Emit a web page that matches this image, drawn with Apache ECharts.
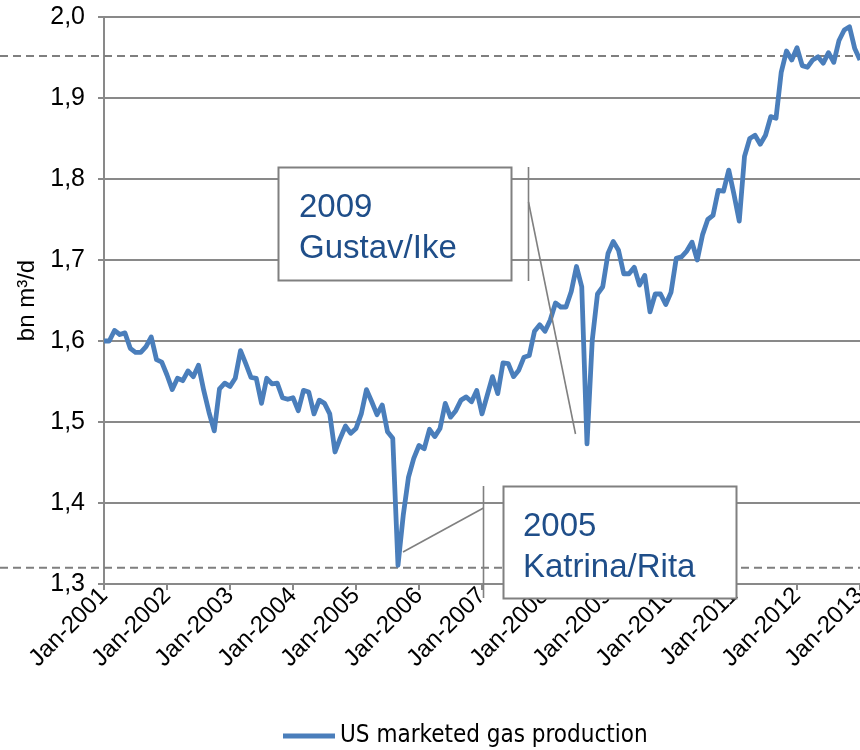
<!DOCTYPE html>
<html>
<head>
<meta charset="utf-8">
<script src="https://cdn.jsdelivr.net/npm/echarts@6/dist/echarts.min.js"></script>
<style>
html,body{margin:0;padding:0;background:#fff;}
#main{width:860px;height:750px;}
</style>
</head>
<body>
<div id="main"></div>
<script>
// ---- data ----
const monthNames = ['Jan','Feb','Mar','Apr','May','Jun','Jul','Aug','Sep','Oct','Nov','Dec'];
const startYear = 2001;
const endYear = 2013; // Jan of this year is the last point
const categories = [];
for (let y = startYear; y <= endYear; y++) {
  for (let m = 0; m < 12; m++) {
    if (y === endYear && m > 0) break;
    categories.push(monthNames[m] + '-' + y);
  }
}
const seriesName = 'US marketed gas production';
const production = [
  1.600,1.600,1.613,1.608,1.610,1.591,1.586,1.586,1.593,1.605,1.577,1.574, // 2001
  1.558,1.540,1.554,1.551,1.563,1.556,1.570,1.539,1.512,1.489,1.541,1.548, // 2002
  1.544,1.554,1.588,1.572,1.555,1.554,1.523,1.554,1.547,1.548,1.530,1.528, // 2003
  1.530,1.514,1.539,1.537,1.510,1.527,1.523,1.510,1.463,1.480,1.495,1.486, // 2004
  1.492,1.510,1.540,1.525,1.509,1.521,1.488,1.480,1.323,1.385,1.432,1.455, // 2005
  1.471,1.467,1.491,1.482,1.492,1.523,1.506,1.514,1.527,1.531,1.525,1.539, // 2006
  1.510,1.533,1.556,1.535,1.573,1.572,1.556,1.564,1.580,1.582,1.612,1.620, // 2007
  1.612,1.626,1.647,1.642,1.642,1.661,1.692,1.667,1.473,1.601,1.658,1.667, // 2008
  1.708,1.723,1.712,1.683,1.683,1.691,1.669,1.681,1.636,1.658,1.658,1.645, // 2009
  1.660,1.702,1.704,1.711,1.722,1.700,1.731,1.750,1.755,1.786,1.785,1.811, // 2010
  1.781,1.748,1.828,1.850,1.854,1.843,1.854,1.877,1.875,1.932,1.958,1.947, // 2011
  1.962,1.940,1.938,1.947,1.951,1.943,1.956,1.944,1.971,1.984,1.988,1.961, // 2012
  1.947 // Jan-2013
];
const yTicks = [1.3,1.4,1.5,1.6,1.7,1.8,1.9,2.0];
const refLines = [1.952, 1.320];
const annotations = [
  {title: '2009', name: 'Gustav/Ike'},
  {title: '2005', name: 'Katrina/Rita'}
];
const yAxisName = 'bn m³/d';

// ---- chart ----
const chart = echarts.init(document.getElementById('main'), null, {renderer: 'canvas'});
const FONT = '"Liberation Sans", Arial, sans-serif';
const GRID = '#898989';

chart.setOption({
  animation: false,
  backgroundColor: '#ffffff',
  grid: {left: 104, right: 0, top: 17, bottom: 166, containLabel: false, outerBoundsMode: 'none'},
  xAxis: {
    type: 'category',
    data: categories,
    boundaryGap: false,
    axisLine: {lineStyle: {color: GRID, width: 2}},
    axisTick: {show: true, length: 6, interval: (i) => i % 12 === 0, lineStyle: {color: GRID, width: 2}},
    axisLabel: {
      interval: (i) => i % 12 === 0,
      rotate: 45, margin: 8,
      fontFamily: FONT, fontSize: 24, color: '#000'
    },
    splitLine: {show: false}
  },
  yAxis: {
    type: 'value',
    min: yTicks[0], max: yTicks[yTicks.length - 1], interval: 0.1,
    name: yAxisName, nameLocation: 'middle', nameGap: 64, nameRotate: 90,
    nameTextStyle: {fontFamily: FONT, fontSize: 24, color: '#000'},
    axisLine: {show: true, lineStyle: {color: GRID, width: 2}},
    axisTick: {show: true, length: 6, lineStyle: {color: GRID, width: 2}},
    axisLabel: {
      fontFamily: FONT, fontSize: 25, color: '#000', margin: 19,
      formatter: (v) => v.toFixed(1).replace('.', ',')
    },
    splitLine: {lineStyle: {color: GRID, width: 2}}
  },
  legend: {
    data: [seriesName],
    left: 283, top: 724, padding: 0,
    icon: 'rect', itemWidth: 52, itemHeight: 5, itemGap: 6,
    textStyle: {fontFamily: '"Liberation Sans Narrow", "DejaVu Sans Condensed", sans-serif', fontSize: 24, color: '#000', padding: [0,0,0,0]}
  },
  series: [{
    name: seriesName,
    type: 'line',
    data: production,
    showSymbol: false, symbol: 'none',
    lineStyle: {color: '#4a7ebb', width: 4.8, join: 'round'},
    itemStyle: {color: '#4a7ebb'},
    z: 5
  }]
});

function buildGraphics() {
  const yTop = chart.convertToPixel({yAxisIndex: 0}, refLines[0]);
  const yBot = chart.convertToPixel({yAxisIndex: 0}, refLines[1]);
  const line = (x1, y1, x2, y2, extra) => Object.assign({
    type: 'line', shape: {x1, y1, x2, y2},
    style: {stroke: '#808080', lineWidth: 1.6}, z: 20
  }, extra || {});
  const textStyle = {fill: '#1f4e89', font: '33px "Liberation Sans", Arial, sans-serif', lineHeight: 41};
  return [
    line(0, yTop, 860, yTop, {style: {stroke: '#7f7f7f', lineWidth: 2, lineDash: [8, 5]}, z: 3}),
    line(0, yBot, 860, yBot, {style: {stroke: '#7f7f7f', lineWidth: 2, lineDash: [8, 5]}, z: 3}),
    // Gustav/Ike callout
    {type: 'rect', shape: {x: 278.5, y: 167.5, width: 233, height: 113}, style: {fill: '#fff', stroke: '#808080', lineWidth: 2}, z: 30},
    {type: 'text', x: 299, y: 187, style: Object.assign({text: annotations[0].title + '\n' + annotations[0].name}, textStyle), z: 31},
    line(528.5, 167, 528.5, 281, {z: 30}),
    line(528.5, 202, 575.5, 434, {z: 30}),
    // Katrina/Rita callout
    {type: 'rect', shape: {x: 503.5, y: 486.5, width: 233, height: 112}, style: {fill: '#fff', stroke: '#808080', lineWidth: 2}, z: 30},
    {type: 'text', x: 523, y: 506, style: Object.assign({text: annotations[1].title + '\n' + annotations[1].name}, textStyle), z: 31},
    line(483.5, 486, 483.5, 598, {z: 30}),
    line(483.5, 508, 403, 552, {z: 30})
  ];
}
chart.setOption({graphic: buildGraphics()});
</script>
</body>
</html>
